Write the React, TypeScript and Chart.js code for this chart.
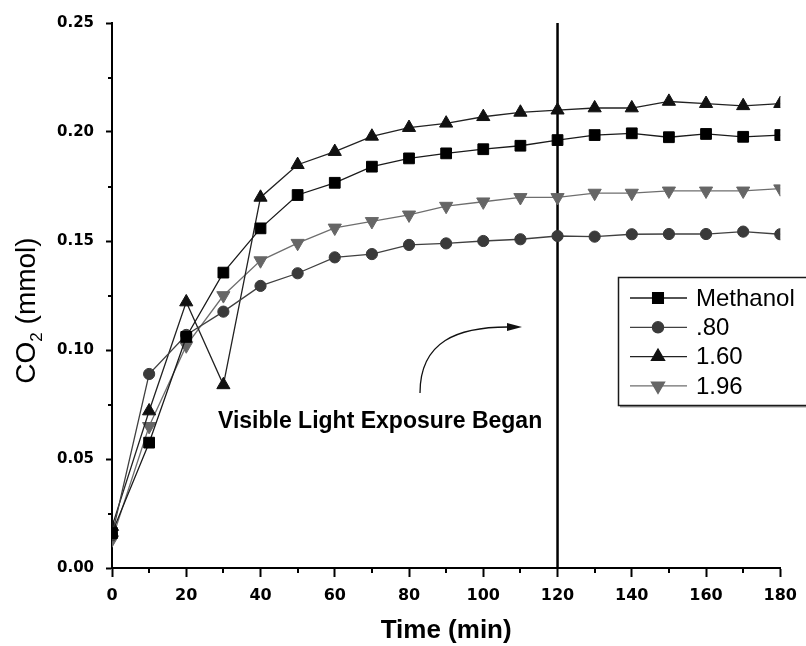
import React, { useEffect, useRef } from 'react';
import { Chart, registerables } from 'chart.js';
import { drawPoint } from 'chart.js/helpers';

Chart.register(...registerables);

// Sampling times (min)
const times = [0, 10, 20, 30, 40, 50, 60, 70, 80, 90, 100, 110, 120, 130, 140, 150, 160, 170, 180];

// CO2 evolved (mmol) for each run
const methanol = [0.016, 0.0575, 0.106, 0.1355, 0.1558, 0.1711, 0.1767, 0.1841, 0.1879, 0.1902, 0.1921, 0.1937, 0.1963, 0.1986, 0.1994, 0.1976, 0.1991, 0.1978, 0.1986];
const ratio080 = [0.015, 0.089, 0.1069, 0.1176, 0.1294, 0.1352, 0.1425, 0.144, 0.1482, 0.1489, 0.15, 0.1508, 0.1523, 0.152, 0.1531, 0.1532, 0.1532, 0.1543, 0.1531];
const ratio160 = [0.019, 0.072, 0.122, 0.084, 0.17, 0.185, 0.191, 0.198, 0.202, 0.204, 0.207, 0.209, 0.21, 0.211, 0.211, 0.214, 0.213, 0.212, 0.213];
const ratio196 = [0.013, 0.065, 0.102, 0.125, 0.141, 0.149, 0.156, 0.159, 0.162, 0.166, 0.168, 0.17, 0.17, 0.172, 0.172, 0.173, 0.173, 0.173, 0.174];

const seriesLabels = ['Methanol', '.80', '1.60', '1.96'];

// Axis ranges and tick spacing
const xRange = [0, 180];
const xMajorStep = 20;
const xMinorStep = 10;
const yRange = [0, 0.25];
const yMajorStep = 0.05;
const yMinorStep = 0.025;

// Start of visible-light exposure (min)
const lightOnTime = 120;
const annotationText = 'Visible Light Exposure Began';

const styles = [
  { point: 'rect', rotation: 0, radius: 7.6, fill: '#000000', line: '#1a1a1a' },
  { point: 'circle', rotation: 0, radius: 5.6, fill: '#3a3a3a', line: '#404040' },
  { point: 'triangle', rotation: 0, radius: 7.6, fill: '#111111', line: '#222222' },
  { point: 'triangle', rotation: 180, radius: 7.6, fill: '#666666', line: '#6e6e6e' },
];

const seriesValues = [methanol, ratio080, ratio160, ratio196];

const FONT_SANS = "'Liberation Sans', Arial, sans-serif";
const FONT_TICK = "'DejaVu Sans', 'Liberation Sans', sans-serif";

const decorations = {
  id: 'decorations',
  afterDraw(chart: any) {
    const { ctx, chartArea, scales } = chart;
    const xs = scales.x;
    const ys = scales.y;
    ctx.save();

    // minor ticks
    ctx.strokeStyle = '#000';
    ctx.lineWidth = 2;
    ctx.beginPath();
    for (let v = xRange[0] + xMinorStep; v < xRange[1]; v += xMajorStep) {
      const px = Math.round(xs.getPixelForValue(v));
      ctx.moveTo(px, chartArea.bottom);
      ctx.lineTo(px, chartArea.bottom + 5);
    }
    for (let v = yRange[0] + yMinorStep; v < yRange[1]; v += yMajorStep) {
      const py = Math.round(ys.getPixelForValue(v));
      ctx.moveTo(chartArea.left, py);
      ctx.lineTo(chartArea.left - 4, py);
    }
    ctx.stroke();

    // x-axis title
    ctx.fillStyle = '#000';
    ctx.font = `bold 26px ${FONT_SANS}`;
    ctx.textAlign = 'center';
    ctx.textBaseline = 'alphabetic';
    ctx.fillText('Time (min)', (chartArea.left + chartArea.right) / 2, chartArea.bottom + 70);

    // y-axis title with subscript
    ctx.save();
    ctx.translate(35, (chartArea.top + chartArea.bottom) / 2 + 15);
    ctx.rotate(-Math.PI / 2);
    ctx.textAlign = 'left';
    const big = `28px ${FONT_SANS}`;
    const small = `17px ${FONT_SANS}`;
    ctx.font = big;
    const wCO = ctx.measureText('CO').width;
    const wRest = ctx.measureText(' (mmol)').width;
    ctx.font = small;
    const wSub = ctx.measureText('2').width;
    const total = wCO + wSub + wRest;
    let cx = -total / 2;
    ctx.font = big;
    ctx.fillText('CO', cx, 0);
    cx += wCO;
    ctx.font = small;
    ctx.fillText('2', cx, 7);
    cx += wSub;
    ctx.font = big;
    ctx.fillText(' (mmol)', cx, 0);
    ctx.restore();

    // annotation text
    ctx.font = `bold 23px ${FONT_SANS}`;
    ctx.textAlign = 'left';
    ctx.textBaseline = 'middle';
    ctx.fillText(annotationText, chartArea.left + 106, chartArea.bottom - 146);

    // curved arrow pointing at the exposure line
    const sx = chartArea.left + 308;
    const sy = chartArea.bottom - 175;
    const ex = chartArea.left + 406;
    const ey = chartArea.bottom - 241;
    ctx.strokeStyle = '#111';
    ctx.lineWidth = 1.3;
    ctx.beginPath();
    ctx.moveTo(sx, sy);
    ctx.bezierCurveTo(sx, sy - 52, sx + 38, ey, ex - 10, ey);
    ctx.stroke();
    ctx.fillStyle = '#111';
    ctx.beginPath();
    ctx.moveTo(ex + 4, ey);
    ctx.lineTo(ex - 11, ey - 4);
    ctx.lineTo(ex - 11, ey + 4);
    ctx.closePath();
    ctx.fill();

    // legend
    const boxL = 618;
    const boxT = 277;
    const boxB = 405;
    ctx.fillStyle = '#fff';
    ctx.fillRect(boxL, boxT, 220, boxB - boxT);
    ctx.strokeStyle = '#999';
    ctx.lineWidth = 2;
    ctx.beginPath();
    ctx.moveTo(boxL + 2, boxB + 1.5);
    ctx.lineTo(boxL + 230, boxB + 1.5);
    ctx.stroke();
    ctx.strokeStyle = '#1a1a1a';
    ctx.lineWidth = 1.5;
    ctx.strokeRect(boxL + 0.5, boxT + 0.5, 230, boxB - boxT);

    seriesLabels.forEach((label, i) => {
      const st = styles[i];
      const y = boxT + 21 + i * 29.3;
      ctx.strokeStyle = st.line;
      ctx.lineWidth = 1.3;
      ctx.beginPath();
      ctx.moveTo(630, y);
      ctx.lineTo(687, y);
      ctx.stroke();
      ctx.fillStyle = st.fill;
      ctx.strokeStyle = st.fill;
      drawPoint(ctx, { pointStyle: st.point, radius: st.radius, rotation: st.rotation, borderWidth: 1 }, 658, y);
      ctx.fillStyle = '#000';
      ctx.font = `24px ${FONT_SANS}`;
      ctx.textAlign = 'left';
      ctx.textBaseline = 'middle';
      ctx.fillText(label, 696, y + 1);
    });

    ctx.restore();
  },
};

export default function App() {
  const canvasRef = useRef<HTMLCanvasElement | null>(null);

  useEffect(() => {
    if (!canvasRef.current) return;
    const datasets: any[] = seriesLabels.map((label, i) => ({
      label,
      data: times.map((t, k) => ({ x: t, y: seriesValues[i][k] })),
      borderColor: styles[i].line,
      borderWidth: 1.3,
      backgroundColor: styles[i].fill,
      pointBackgroundColor: styles[i].fill,
      pointBorderColor: styles[i].fill,
      pointBorderWidth: 1,
      pointStyle: styles[i].point,
      pointRotation: styles[i].rotation,
      pointRadius: styles[i].radius,
      tension: 0,
      fill: false,
    }));
    datasets.push({
      label: 'light on',
      data: [
        { x: lightOnTime, y: yRange[0] },
        { x: lightOnTime, y: yRange[1] },
      ],
      borderColor: '#000',
      borderWidth: 2.5,
      pointRadius: 0,
      fill: false,
    });

    const chart = new Chart(canvasRef.current, {
      type: 'line',
      data: { datasets },
      options: {
        animation: false,
        responsive: false,
        maintainAspectRatio: false,
        layout: { padding: { top: 23, right: 22, left: 0, bottom: 0 } },
        plugins: { legend: { display: false }, tooltip: { enabled: false } },
        scales: {
          x: {
            type: 'linear',
            min: xRange[0],
            max: xRange[1],
            afterFit: (scale: any) => {
              scale.height = 78;
            },
            ticks: {
              stepSize: xMajorStep,
              color: '#000',
              padding: 9,
              maxRotation: 0,
              font: { family: FONT_TICK, weight: 'bold', size: 16 },
            },
            grid: { drawOnChartArea: false, drawTicks: true, tickLength: 9, tickWidth: 2, tickColor: '#000' },
            border: { display: true, color: '#000', width: 2 },
          },
          y: {
            type: 'linear',
            min: yRange[0],
            max: yRange[1],
            afterFit: (scale: any) => {
              scale.width = 112;
            },
            ticks: {
              stepSize: yMajorStep,
              color: '#000',
              padding: 12,
              callback: (v: any) => Number(v).toFixed(2),
              font: { family: FONT_TICK, weight: 'bold', size: 15 },
            },
            grid: { drawOnChartArea: false, drawTicks: true, tickLength: 6, tickWidth: 2, tickColor: '#000' },
            border: { display: true, color: '#000', width: 2 },
          },
        },
      },
      plugins: [decorations],
    });
    return () => chart.destroy();
  }, []);

  return (
    <div style={{ position: 'absolute', left: 0, top: 0, width: 806, height: 646, background: '#fff' }}>
      <canvas ref={canvasRef} width={806} height={646} />
    </div>
  );
}
